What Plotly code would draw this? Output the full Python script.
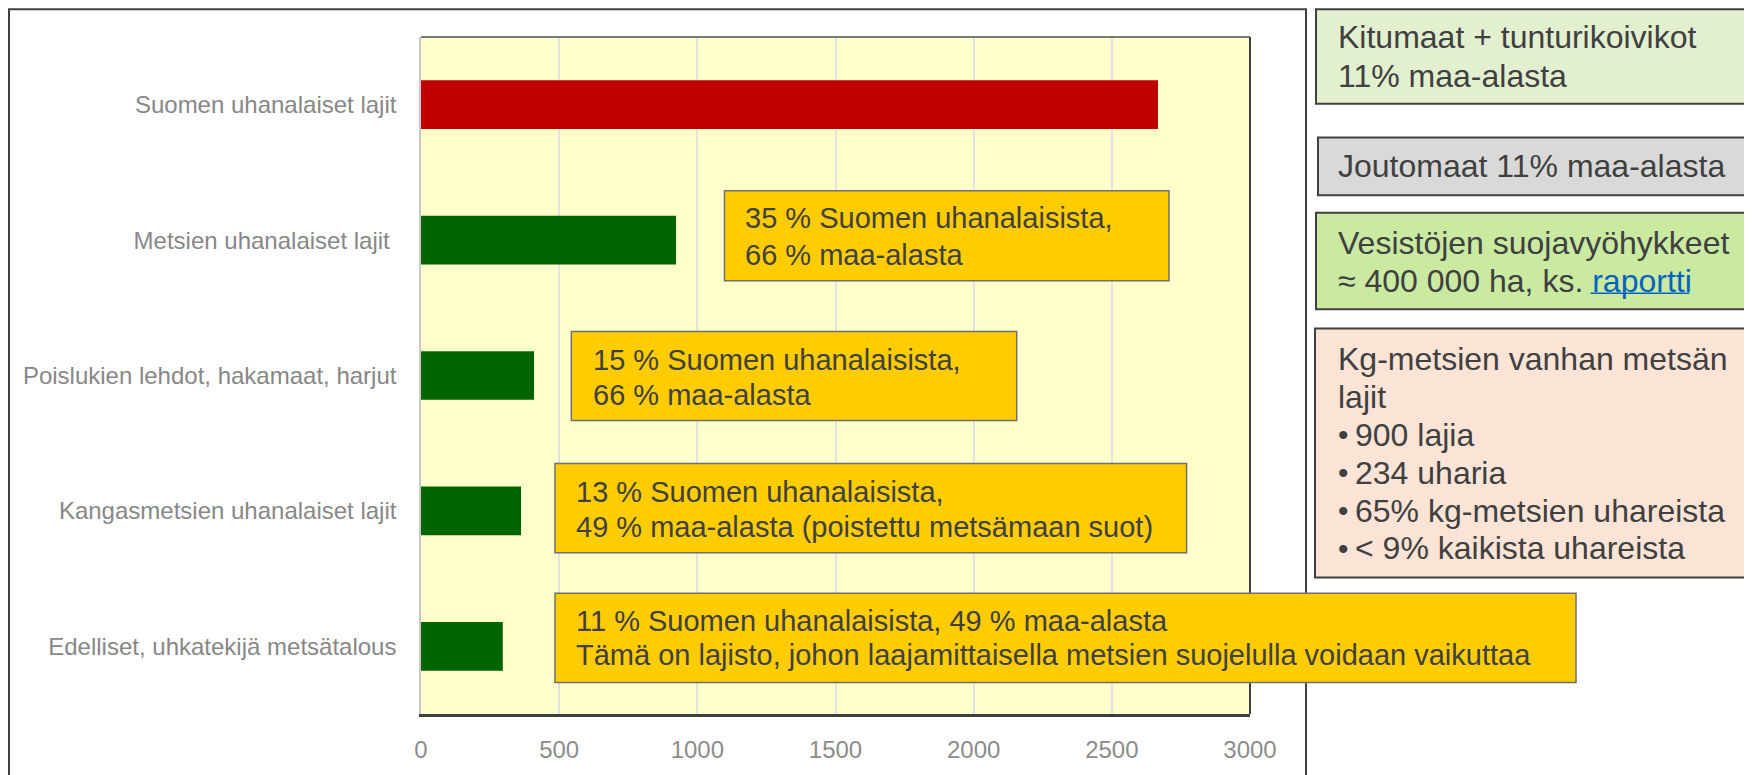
import plotly.graph_objects as go

# ---------------- data ----------------
categories = [
    "Suomen uhanalaiset lajit",
    "Metsien uhanalaiset lajit\u00a0",
    "Poislukien lehdot, hakamaat, harjut",
    "Kangasmetsien uhanalaiset lajit",
    "Edelliset, uhkatekijä metsätalous",
]
values = [2667, 923, 409, 362, 296]
bar_colors = ["#C00000", "#006400", "#006400", "#006400", "#006400"]
x_ticks = [0, 500, 1000, 1500, 2000, 2500, 3000]

yellow_texts = [
    ["35 % Suomen uhanalaisista,", "66 % maa-alasta"],
    ["15 % Suomen uhanalaisista,", "66 % maa-alasta"],
    ["13 % Suomen uhanalaisista,", "49 % maa-alasta (poistettu metsämaan suot)"],
    ["11 % Suomen uhanalaisista, 49 % maa-alasta",
     "Tämä on lajisto, johon laajamittaisella metsien suojelulla voidaan vaikuttaa"],
]
side_texts = [
    ["Kitumaat + tunturikoivikot", "11% maa-alasta"],
    ["Joutomaat 11% maa-alasta"],
    ["Vesistöjen suojavyöhykkeet",
     "≈ 400 000 ha, ks. <span style='color:#0563C1'>raportti</span>"],
    ["Kg-metsien vanhan metsän", "lajit"],
]
bullets = ["900 lajia", "234 uharia", "65% kg-metsien uhareista", "< 9% kaikista uhareista"]

# ---------------- layout geometry (page pixels) ----------------
OFF = 8                      # default body margin of the written page
W, H = 1752 - OFF, 775 - OFF
PL, PR, PT, PB = 421, 1250, 37, 720   # plot area in page pixels
FONT = "Liberation Sans, Arial, sans-serif"
TXT = "#404040"


def fx(px):
    return (px - PL) / (PR - PL)


def fy(py):
    return (PB - py) / (PB - PT)


fig = go.Figure()
fig.add_trace(go.Bar(
    y=categories, x=values, orientation="h", width=0.36,
    marker=dict(color=bar_colors, line=dict(width=0)),
    hoverinfo="skip",
))

shapes = []
annotations = []


def rect(x0, y0, x1, y1, fill, line, lw):
    shapes.append(dict(type="rect", xref="paper", yref="paper",
                       x0=fx(x0), x1=fx(x1), y0=fy(y0), y1=fy(y1),
                       fillcolor=fill, line=dict(color=line, width=lw),
                       layer="above"))


def text(x, y, s, size):
    annotations.append(dict(xref="paper", yref="paper", x=fx(x), y=fy(y),
                            xanchor="left", yanchor="middle", text=s,
                            showarrow=False, borderpad=0,
                            font=dict(family=FONT, size=size, color=TXT)))


# outer frame
rect(9, 9, 1306, 800, "rgba(0,0,0,0)", "#404040", 2)
# plot top & right border
shapes.append(dict(type="line", xref="paper", yref="paper", x0=0, x1=1, y0=1, y1=1,
                   line=dict(color="#505050", width=1.5), layer="above"))
shapes.append(dict(type="line", xref="paper", yref="paper", x0=1, x1=1, y0=0, y1=1,
                   line=dict(color="#404040", width=2), layer="above"))

# yellow boxes
ybox = [(724.5, 192, 1169, 283), (571.3, 334, 1016.7, 424),
        (555, 467.3, 1186.6, 557.3), (555, 598.3, 1576, 688.3)]
ytext_pos = [(743.5, [220, 257]), (591.7, [362.7, 398]),
             (575, [496, 531]), (575, [625.7, 660.7])]
for (x0, y0, x1, y1), (tx, tys), lines in zip(ybox, ytext_pos, yellow_texts):
    rect(x0, y0, x1, y1, "#FFCC00", "#707070", 1.5)
    for ty, s in zip(tys, lines):
        text(tx, ty, s, 29)

# side boxes
sbox = [(1316, 9, 1770, 104.3, "#E2F0D0"), (1318, 138.3, 1770, 196.7, "#D9D9D9"),
        (1316, 214.3, 1770, 311.7, "#C9EAA0"), (1315, 331, 1770, 582.3, "#FBE3D5")]
stext_pos = [(1336.7, [36.7, 76]), (1337.3, [166.7]), (1337, [245, 283.3]),
             (1336.7, [361.7, 400])]
for (x0, y0, x1, y1, fc), (tx, tys), lines in zip(sbox, stext_pos, side_texts):
    rect(x0, y0, x1, y1, fc, "#404040", 2)
    for ty, s in zip(tys, lines):
        text(tx, ty, s, 32)

bullet_y = [438.3, 476.7, 515, 552.7]
for by, s in zip(bullet_y, bullets):
    text(1337, by, "•", 30)
    text(1353.5, by, s, 32)

# underline of link
shapes.append(dict(type="line", xref="paper", yref="paper",
                   x0=fx(1590.7), x1=fx(1689.3), y0=fy(295.5), y1=fy(295.5),
                   line=dict(color="#0563C1", width=1.5), layer="above"))

fig.update_layout(
    width=W, height=H,
    margin=dict(l=PL - OFF, r=W - (PR - OFF), t=PT - OFF, b=H - (PB - OFF), pad=0),
    paper_bgcolor="white", plot_bgcolor="#FFFFCC",
    showlegend=False, bargap=0.64,
    font=dict(family=FONT),
    shapes=shapes, annotations=annotations,
    xaxis=dict(range=[0, 3000], tickvals=x_ticks, ticks="",
               showgrid=True, gridcolor="#E2E2E2", gridwidth=2,
               zeroline=False, showline=True, linecolor="#404040", linewidth=2.5,
               tickfont=dict(family=FONT, size=24, color="#8C8C8C"),
               ticklabelstandoff=12, fixedrange=True),
    yaxis=dict(type="category", autorange="reversed", ticks="",
               showgrid=False, zeroline=False, showline=True,
               linecolor="#C8C8C8", linewidth=1.5,
               tickfont=dict(family=FONT, size=24, color="#878787"),
               ticklabelstandoff=18, fixedrange=True),
)

fig.write_html("out.html", config={"displayModeBar": False})
